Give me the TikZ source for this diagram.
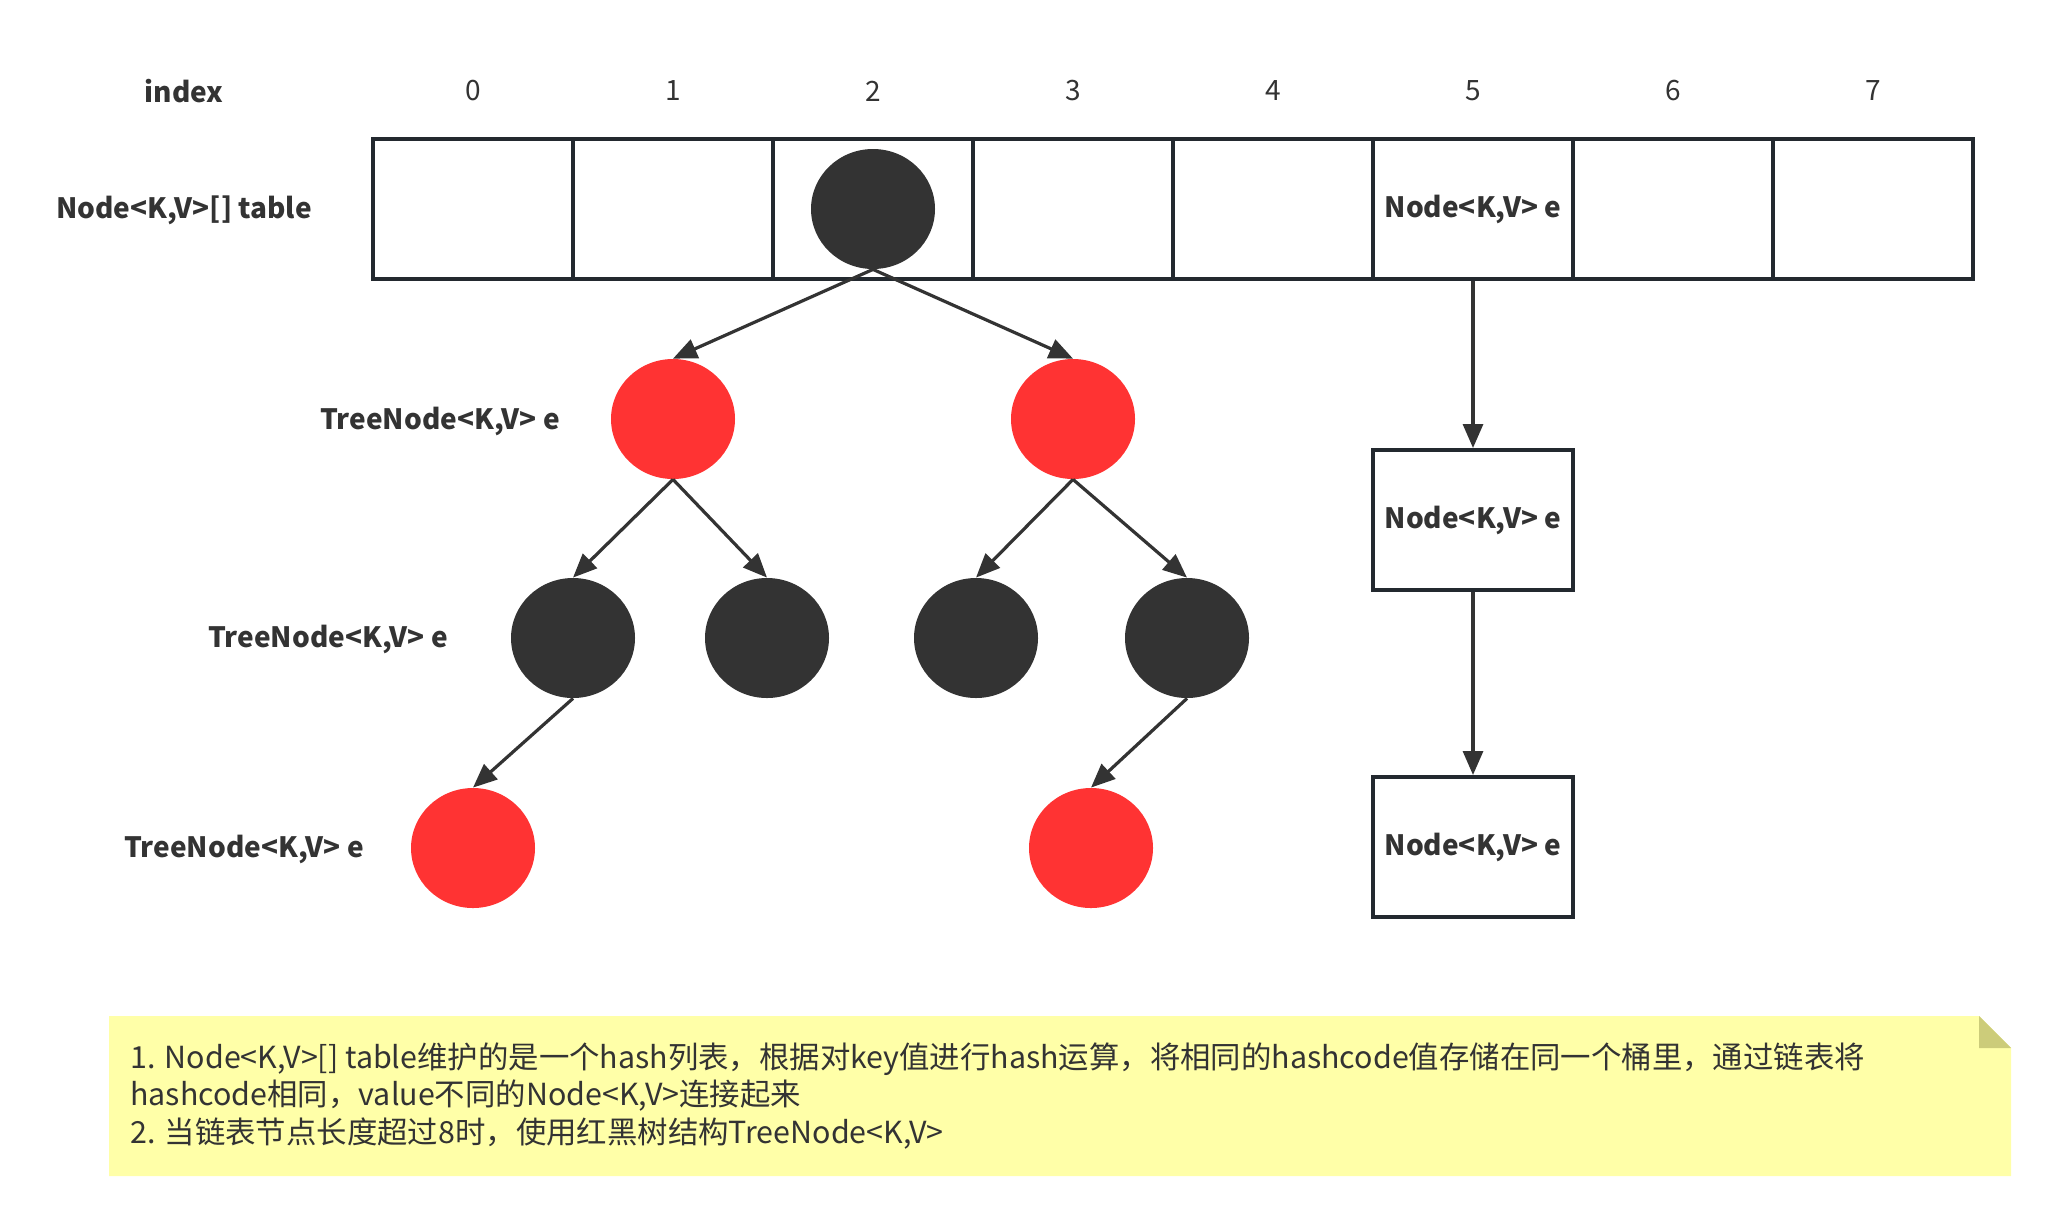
\documentclass[tikz,border=0pt]{standalone}
\usepackage{fontspec}
\setmainfont{Noto Sans CJK SC}
\usepackage{tikz}
\usetikzlibrary{shapes.geometric, arrows.meta, positioning}
\definecolor{ink}{HTML}{333333}
\definecolor{frame}{HTML}{23292F}
\definecolor{rbred}{HTML}{FF3333}
\definecolor{notefill}{HTML}{FFFFA8}
\definecolor{notefold}{HTML}{CCCC7A}
\tikzstyle{cell} = [rectangle, minimum width=100pt, minimum height=70pt, inner sep=0pt, draw=frame, line width=2pt, text=ink, font=\fontsize{14}{17}\selectfont\bfseries]
\tikzstyle{blacknode} = [ellipse, minimum width=62pt, minimum height=60pt, inner sep=0pt, fill=ink]
\tikzstyle{rednode} = [ellipse, minimum width=62pt, minimum height=60pt, inner sep=0pt, fill=rbred]
\tikzstyle{fieldtext} = [text=ink, font=\fontsize{14}{17}\selectfont\bfseries]
\tikzstyle{indextext} = [text=ink, font=\fontsize{14}{17}\selectfont]
\tikzstyle{arrow} = [line width=1.6pt, draw=ink, -{Triangle[length=12pt, width=10pt]}]

\begin{document}
\begin{tikzpicture}[x=0.5pt, y=-0.5pt]
    \useasboundingbox (0,0) rectangle (2061,1228);

    % table and index row
    \node (index) [fieldtext] at (184,91) {index};
    \node (table) [fieldtext] at (184,210) {Node<K,V>[] table};
    \foreach \i in {0,...,7} {
        \node (cell\i) [cell] at (473+200*\i,209) {};
        \node (idx\i) [indextext] at (473+200*\i,91) {\i};
    }
    \node (bucket) [fieldtext] at (cell5) {Node<K,V> e};

    % red-black tree in bucket 2
    \node (root) [blacknode] at (cell2) {};
    \node (r1) [rednode] at (673,419) {};
    \node (r2) [rednode] at (1073,419) {};
    \node (b1) [blacknode] at (573,638) {};
    \node (b2) [blacknode] at (767,638) {};
    \node (b3) [blacknode] at (976,638) {};
    \node (b4) [blacknode] at (1187,638) {};
    \node (r3) [rednode] at (473,848) {};
    \node (r4) [rednode] at (1091,848) {};

    \node (lvl1) [fieldtext] at (440,421) {TreeNode<K,V> e};
    \node (lvl2) [fieldtext] at (328,639) {TreeNode<K,V> e};
    \node (lvl3) [fieldtext] at (244,849) {TreeNode<K,V> e};

    \draw [arrow] (root.south) -- (r1.north);
    \draw [arrow] (root.south) -- (r2.north);
    \draw [arrow] (r1.south) -- (b1.north);
    \draw [arrow] (r1.south) -- (b2.north);
    \draw [arrow] (r2.south) -- (b3.north);
    \draw [arrow] (r2.south) -- (b4.north);
    \draw [arrow] (b1.south) -- (r3.north);
    \draw [arrow] (b4.south) -- (r4.north);

    % linked list in bucket 5
    \node (list1) [cell] at (1473,520) {Node<K,V> e};
    \node (list2) [cell] at (1473,847) {Node<K,V> e};

    \draw [arrow] (cell5.south) -- (list1.north);
    \draw [arrow] (list1.south) -- (list2.north);

    % note
    \fill [notefill] (109,1016) -- (1979,1016) -- (2011,1048) -- (2011,1176) -- (109,1176) -- cycle;
    \fill [notefold] (1979,1016) -- (1979,1048) -- (2011,1048) -- cycle;
    \node (note) [anchor=west, align=left, inner sep=0pt, text=ink, font=\fontsize{15.2}{18.7}\selectfont] at (130,1096)
        {1. Node<K,V>[] table维护的是一个hash列表，根据对key值进行hash运算，将相同的hashcode值存储在同一个桶里，通过链表将\\
         hashcode相同，value不同的Node<K,V>连接起来\\
         2. 当链表节点长度超过8时，使用红黑树结构TreeNode<K,V>};
\end{tikzpicture}
\end{document}
